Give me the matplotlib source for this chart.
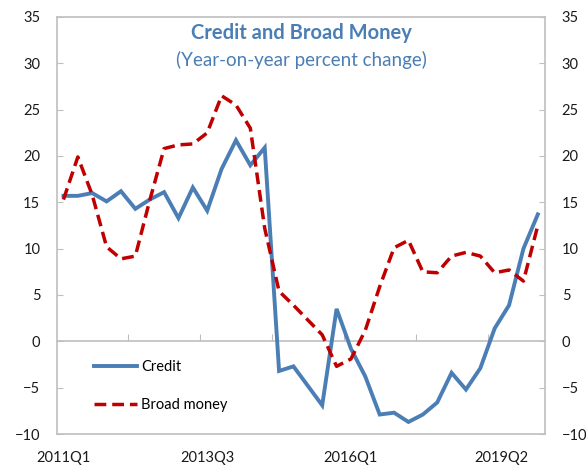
import matplotlib
matplotlib.use("Agg")
import matplotlib.pyplot as plt

plt.rcParams['font.family'] = ['Lato', 'DejaVu Sans']

# quarterly, 2011Q1 .. 2019Q2
quarters = [f"{y}Q{q}" for y in range(2011, 2020) for q in range(1, 5)][:34]
credit = [15.7, 15.7, 16.0, 15.1, 16.2, 14.3, 15.3, 16.1, 13.3, 16.6,
          14.1, 18.6, 21.7, 19.0, 20.9, -3.2, -2.7, -4.8, -6.9, 3.5,
          -0.8, -3.8, -7.9, -7.7, -8.7, -7.9, -6.6, -3.4, -5.2, -2.9,
          1.4, 3.9, 10.0, 13.7]
broad_money = [15.3, 19.9, 15.8, 10.2, 8.9, 9.2, 15.2, 20.8, 21.2, 21.3,
               22.5, 26.5, 25.5, 23.0, 12.2, 5.4, 3.9, 2.3, 0.7, -2.7,
               -1.9, 1.2, 5.9, 10.1, 10.9, 7.5, 7.4, 9.2, 9.6, 9.2,
               7.4, 7.7, 6.5, 12.5]
label_names = ["2011Q1", "2013Q3", "2016Q1", "2019Q2"]
label_pos = [0, 10, 20, 30.5]
yticks = list(range(-10, 40, 5))

BLUE = "#4A7EB4"
RED = "#C00000"
GRAY = "#BFBFBF"

fig = plt.figure(figsize=(5.86, 4.66), dpi=100)
ax = fig.add_axes([57 / 586, 1 - 434 / 466, 488 / 586, 417 / 466])

x = list(range(len(quarters)))
ax.plot(x, credit, color=BLUE, lw=2.8, label="Credit", solid_joinstyle="miter")
ax.plot(x, broad_money, color=RED, lw=2.5, dashes=(3.4, 1.7),
        dash_capstyle="butt", label="Broad money")

ax.set_xlim(-0.45, 33.5)
ax.set_ylim(-10, 35)
ax.set_yticks(yticks)
ax.set_xticks(label_pos)
ax.set_xticklabels(label_names)

for s in ax.spines.values():
    s.set_color(GRAY)
    s.set_linewidth(1.2)

ax.tick_params(axis='x', length=0, pad=12, labelsize=10.5, colors="#1a1a1a")
ax.tick_params(axis='y', direction='in', length=4, color=GRAY, pad=12,
               labelsize=10.5, labelcolor="#1a1a1a",
               left=True, right=True, labelleft=True, labelright=True)

# zero line with the category tick marks
sec = ax.secondary_xaxis(10 / 45)
sec.set_xticks([4.5, 9.5, 14.5, 19.5, 24.5, 29.5])
sec.tick_params(direction='in', length=5, color=GRAY, labelbottom=False,
                labeltop=False)
for s in sec.spines.values():
    s.set_color(GRAY)
    s.set_linewidth(1.2)

ax.text(0.5, 0.962, "Credit and Broad Money", transform=ax.transAxes,
        ha="center", va="center", fontsize=14.5, fontweight="bold", color=BLUE)
ax.text(0.5, 0.897, "(Year-on-year percent change)", transform=ax.transAxes,
        ha="center", va="center", fontsize=13.5, color=BLUE)

ax.legend(loc="center left", bbox_to_anchor=(0.076, 0.115), frameon=False,
          fontsize=10.5, handlelength=2.95, handletextpad=0.25,
          labelspacing=1.65, borderpad=0, borderaxespad=0)

fig.savefig("out.png", dpi=100)
